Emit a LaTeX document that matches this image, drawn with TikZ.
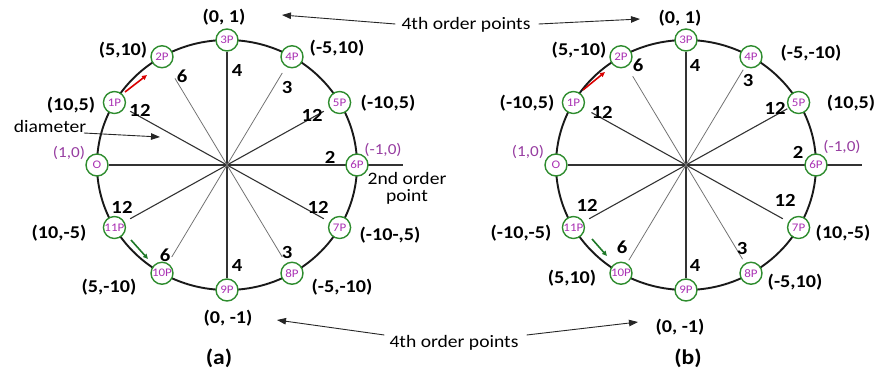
\documentclass[tikz,border=0pt]{standalone}
\usepackage{fontspec}
\setmainfont{Carlito}[FakeStretch=1.12]
\usetikzlibrary{calc,arrows.meta}
\pgfdeclarelayer{bg}
\pgfsetlayers{bg,main}
\definecolor{ngreen}{RGB}{46,140,46}
\definecolor{npurple}{RGB}{170,50,180}
\definecolor{lpurple}{RGB}{150,60,160}
\definecolor{agreen}{RGB}{30,120,40}
\begin{document}
\begin{tikzpicture}[x=1pt,y=-1pt,
  ptnode/.style={circle,draw=ngreen,line width=1.4pt,fill=white,minimum size=22pt,inner sep=0pt,text=npurple,font=\fontsize{11.6}{11.6}\selectfont},
  coordlab/.style={font=\fontsize{18}{18}\selectfont\bfseries,inner sep=0pt},
  ordlab/.style={font=\fontsize{18.5}{18.5}\selectfont\bfseries,inner sep=0pt},
  plab/.style={font=\fontsize{15.3}{15.3}\selectfont,text=lpurple,inner sep=0pt},
  txtlab/.style={font=\fontsize{17.5}{17}\selectfont,inner sep=0pt,align=center},
  captxt/.style={font=\fontsize{21}{21}\selectfont\bfseries,inner sep=0pt},
  spoke/.style={draw=black!80,line width=1.1pt},
  lspoke/.style={draw=black!55,line width=0.8pt},
  pointer/.style={draw=black!85,line width=0.9pt,-{Triangle[length=9pt,width=6.5pt]}},
  ring/.style={draw=black!90,line width=1.9pt},
  redarr/.style={draw=red!85!black,line width=1.6pt,-{Triangle[length=5pt,width=4.5pt]}},
  grnarr/.style={draw=agreen,line width=1.6pt,-{Triangle[length=5pt,width=4.5pt]}},
]
\useasboundingbox (0,0) rectangle (878,378);

% ---------------- diagram (a) ----------------
\coordinate (ac) at (227,165);
\draw[ring] (ac) ellipse [x radius=130pt, y radius=125pt];
\foreach \n/\ang/\t in {O/180/O,1/150/1P,2/120/2P,3/90/3P,4/60/4P,5/30/5P,6/0/6P,7/-30/7P,8/-60/8P,9/-90/9P,10/-120/10P,11/-150/11P}
  \node[ptnode] (a\n) at ({227+130*cos(\ang)},{165-125*sin(\ang)}) {\t};
\coordinate (aH) at (403,165);
\begin{pgfonlayer}{bg}
  \draw[spoke] (aO) -- (aH);
  \draw[spoke] (a3) -- (a9);
  \draw[spoke] ($(ac)!0.86!(a1)$) -- ($(ac)!0.86!(a7)$);
  \draw[spoke] ($(ac)!0.86!(a5)$) -- ($(ac)!0.86!(a11)$);
  \draw[lspoke] ($(ac)!0.8!(a2)$) -- ($(ac)!0.85!(a8)$);
  \draw[lspoke] ($(ac)!0.85!(a4)$) -- ($(ac)!0.85!(a10)$);
\end{pgfonlayer}
\node[coordlab] (la3) at (224,17) {(0, 1)};
\node[coordlab] (la2) at (123,50) {(5,10)};
\node[coordlab] (la1) at (71,105) {(10,5)};
\node[plab] (laO) at (69,153) {(1,0)};
\node[coordlab] (la4) at (337,48) {(-5,10)};
\node[coordlab] (la5) at (388,103) {(-10,5)};
\node[plab] (la6) at (383,150) {(-1,0)};
\node[coordlab] (la11) at (59,233) {(10,-5)};
\node[coordlab] (la10) at (109,287) {(5,-10)};
\node[coordlab] (la9) at (228,318) {(0, -1)};
\node[coordlab] (la8) at (342,287) {(-5,-10)};
\node[coordlab] (la7) at (390,235) {(-10-,5)};
\node[captxt] (capa) at (219,358) {(a)};
\node[ordlab] (oa2) at (182,76) {6};
\node[ordlab] (oa1) at (140,110) {12};
\node[ordlab] (oa3) at (237,70) {4};
\node[ordlab] (oa4) at (287,87) {3};
\node[ordlab] (oa5) at (312,115) {12};
\node[ordlab] (oa6) at (330,157) {2};
\node[ordlab] (oa11) at (122,207) {12};
\node[ordlab] (oa10) at (165,255) {6};
\node[ordlab] (oa7) at (318,207) {12};
\node[ordlab] (oa8) at (287,252) {3};
\node[ordlab] (oa9) at (237,265) {4};
\coordinate (ar1) at (125,92); \coordinate (ar2) at (147,75);
\draw[redarr] (ar1) -- (ar2);
\coordinate (ag1) at (131,240); \coordinate (ag2) at (148,259);
\draw[grnarr] (ag1) -- (ag2);
\node[txtlab] (diam) at (50,126) {diameter};
\coordinate (dt) at (160,137);
\coordinate (ds) at (84,133);
\draw[pointer] (ds) -- (dt);
\node[txtlab] (second) at (407,188) {2nd order\\point};

% ---------------- diagram (b) ----------------
\coordinate (bc) at (686,165);
\draw[ring] (bc) ellipse [x radius=130pt, y radius=125pt];
\foreach \n/\ang/\t in {O/180/O,1/150/1P,2/120/2P,3/90/3P,4/60/4P,5/30/5P,6/0/6P,7/-30/7P,8/-60/8P,9/-90/9P,10/-120/10P,11/-150/11P}
  \node[ptnode] (b\n) at ({686+130*cos(\ang)},{165-125*sin(\ang)}) {\t};
\coordinate (bH) at (862,165);
\begin{pgfonlayer}{bg}
  \draw[spoke] (bO) -- (bH);
  \draw[spoke] (b3) -- (b9);
  \draw[spoke] ($(bc)!0.84!(b1)$) -- ($(bc)!0.86!(b7)$);
  \draw[spoke] ($(bc)!0.9!(b5)$) -- ($(bc)!0.86!(b11)$);
  \draw[lspoke] ($(bc)!0.82!(b2)$) -- ($(bc)!0.87!(b8)$);
  \draw[lspoke] ($(bc)!0.88!(b4)$) -- ($(bc)!0.88!(b10)$);
\end{pgfonlayer}
\node[coordlab] (lb3) at (680,18) {(0, 1)};
\node[coordlab] (lb2) at (579,50) {(5,-10)};
\node[coordlab] (lb1) at (527,103) {(-10,5)};
\node[plab] (lbO) at (528,152) {(1,0)};
\node[coordlab] (lb4) at (811,53) {(-5,-10)};
\node[coordlab] (lb5) at (851,103) {(10,5)};
\node[plab] (lb6) at (842,147) {(-1,0)};
\node[coordlab] (lb11) at (521,233) {(-10,-5)};
\node[coordlab] (lb10) at (572,278) {(5,10)};
\node[coordlab] (lb7) at (843,233) {(10,-5)};
\node[coordlab] (lb8) at (795,282) {(-5,10)};
\node[coordlab] (lb9) at (680,327) {(0, -1)};
\node[captxt] (capb) at (688,358) {(b)};
\node[ordlab] (ob2) at (638,65) {6};
\node[ordlab] (ob1) at (602,112) {12};
\node[ordlab] (ob3) at (695,65) {4};
\node[ordlab] (ob4) at (748,80) {3};
\node[ordlab] (ob5) at (775,108) {12};
\node[ordlab] (ob6) at (798,152) {2};
\node[ordlab] (ob11) at (587,205) {12};
\node[ordlab] (ob10) at (622,247) {6};
\node[ordlab] (ob7) at (785,200) {12};
\node[ordlab] (ob8) at (742,248) {3};
\node[ordlab] (ob9) at (695,265) {4};
\coordinate (br1) at (583,90); \coordinate (br2) at (605,72);
\draw[redarr] (br1) -- (br2);
\coordinate (bg1) at (592,239); \coordinate (bg2) at (607,256);
\draw[grnarr] (bg1) -- (bg2);

% ---------------- 4th order pointers ----------------
\node[txtlab] (top4) at (466,25) {4th order points};
\node[txtlab] (bot4) at (454,343) {4th order points};
\coordinate (t1) at (282,15); \coordinate (t2) at (640,19);
\coordinate (u1) at (277,320); \coordinate (u2) at (638,322);
\draw[pointer] ($(top4.west)+(-6,-1)$) -- (t1);
\draw[pointer] ($(top4.east)+(8,-1)$) -- (t2);
\draw[pointer] ($(bot4.west)+(-5,-8)$) -- (u1);
\draw[pointer] ($(bot4.east)+(8,-8)$) -- (u2);
\end{tikzpicture}
\end{document}
